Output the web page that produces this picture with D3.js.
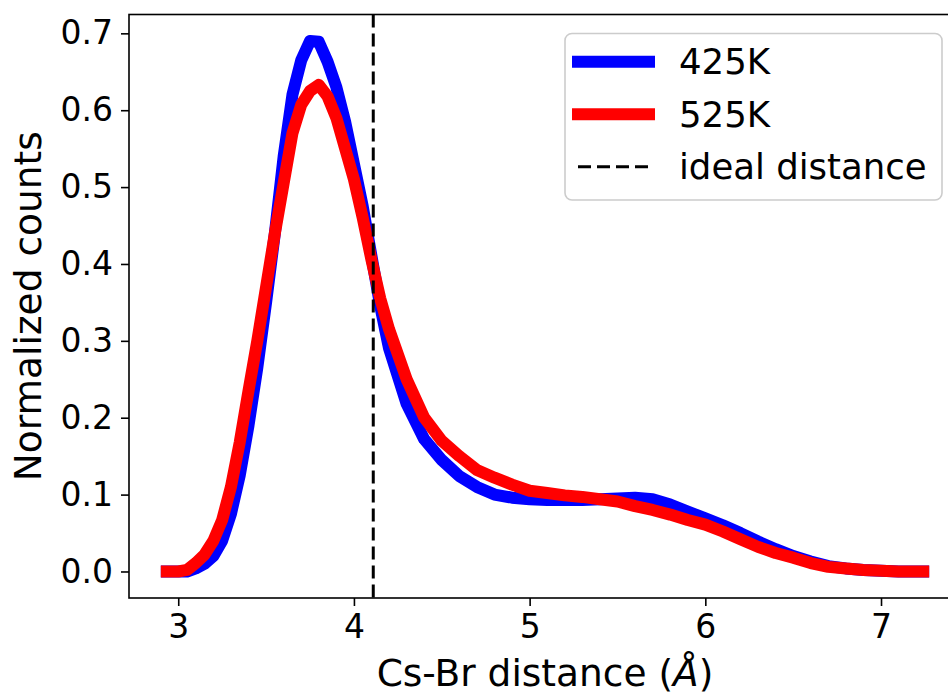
<!DOCTYPE html>
<html>
<head>
<meta charset="utf-8">
<script src="https://cdn.jsdelivr.net/npm/d3@7"></script>
<style>
  html, body { margin: 0; padding: 0; background: #fff; }
  svg { display: block; font-family: "DejaVu Sans", sans-serif; }
</style>
</head>
<body>
<svg id="chart" width="948" height="696"></svg>
<script>
// Cs-Br pair distance distributions (normalized counts) at two temperatures
const distance = [2.935, 3.00, 3.05, 3.10, 3.15, 3.20, 3.25, 3.30, 3.35, 3.40, 3.45, 3.50,
  3.55, 3.60, 3.65, 3.70, 3.75, 3.80, 3.85, 3.90, 3.95, 4.00, 4.05, 4.10, 4.15, 4.20,
  4.30, 4.40, 4.50, 4.60, 4.70, 4.80, 4.90, 5.00, 5.10, 5.20, 5.30, 5.40, 5.50, 5.60,
  5.70, 5.80, 5.90, 6.00, 6.10, 6.20, 6.30, 6.40, 6.50, 6.60, 6.70, 6.80, 6.90, 7.00,
  7.10, 7.24];

const counts425K = [0.000, 0.000, 0.000, 0.004, 0.010, 0.020, 0.040, 0.075, 0.125, 0.190, 0.265, 0.350,
  0.440, 0.540, 0.620, 0.665, 0.690, 0.689, 0.663, 0.630, 0.585, 0.530, 0.475, 0.410, 0.345, 0.290,
  0.218, 0.172, 0.145, 0.124, 0.110, 0.100, 0.096, 0.094, 0.093, 0.093, 0.093, 0.094, 0.095, 0.096,
  0.094, 0.087, 0.078, 0.069, 0.060, 0.050, 0.039, 0.029, 0.020, 0.013, 0.007, 0.004, 0.002, 0.001,
  0.000, 0.000];

const counts525K = [0.000, 0.000, 0.002, 0.011, 0.022, 0.040, 0.067, 0.110, 0.168, 0.235, 0.300, 0.370,
  0.440, 0.505, 0.570, 0.607, 0.625, 0.633, 0.618, 0.590, 0.550, 0.510, 0.460, 0.405, 0.355, 0.315,
  0.250, 0.200, 0.170, 0.150, 0.132, 0.122, 0.113, 0.105, 0.102, 0.099, 0.097, 0.094, 0.091, 0.085,
  0.080, 0.074, 0.067, 0.061, 0.052, 0.042, 0.032, 0.024, 0.018, 0.011, 0.006, 0.004, 0.002, 0.001,
  0.000, 0.000];

const idealDistance = 4.11;

const seriesNames = ["425K", "525K"];
const seriesColors = ["#0000ff", "#ff0000"];
const idealLabel = "ideal distance";

const xTicks = [3, 4, 5, 6, 7];
const yTicks = [0.0, 0.1, 0.2, 0.3, 0.4, 0.5, 0.6, 0.7];

const xLabel = "Cs-Br distance (";
const xLabelUnit = "Å";
const yLabel = "Normalized counts";

// ---- layout ----
const svg = d3.select("#chart");
const plot = { left: 129, top: 14.5, right: 961, bottom: 598 };

// autoscale with 5% margins on both axes
const xExt = d3.extent(distance);
const xPad = (xExt[1] - xExt[0]) * 0.05;
const yMax = d3.max([d3.max(counts425K), d3.max(counts525K)]);
const yMin = 0;
const yPad = (yMax - yMin) * 0.05;

const x = d3.scaleLinear().domain([xExt[0] - xPad, xExt[1] + xPad]).range([plot.left, plot.right]);
const y = d3.scaleLinear().domain([yMin - yPad, yMax + yPad]).range([plot.bottom, plot.top]);

svg.append("defs").append("clipPath").attr("id", "plotClip")
  .append("rect")
  .attr("x", plot.left).attr("y", plot.top)
  .attr("width", plot.right - plot.left).attr("height", plot.bottom - plot.top);

const series = [
  { name: seriesNames[0], color: seriesColors[0], values: counts425K },
  { name: seriesNames[1], color: seriesColors[1], values: counts525K }
];

const line = d3.line()
  .x((d, i) => x(distance[i]))
  .y(d => y(d))
  .curve(d3.curveLinear);

const lines = svg.append("g").attr("clip-path", "url(#plotClip)");
series.forEach(s => {
  lines.append("path")
    .datum(s.values)
    .attr("d", line)
    .attr("fill", "none")
    .attr("stroke", s.color)
    .attr("stroke-width", 12)
    .attr("stroke-linejoin", "round")
    .attr("stroke-linecap", "square");
});

// vertical reference line at the ideal Cs-Br distance
lines.append("line")
  .attr("x1", x(idealDistance)).attr("x2", x(idealDistance))
  .attr("y1", plot.top).attr("y2", plot.bottom)
  .attr("stroke", "#000")
  .attr("stroke-width", 3)
  .attr("stroke-dasharray", "13,6");

// ---- axes ----
const tickFont = 33;
const xAxis = d3.axisBottom(x).tickValues(xTicks).tickFormat(d3.format("d"))
  .tickSizeInner(8).tickSizeOuter(0).tickPadding(9);
const yAxis = d3.axisLeft(y).tickValues(yTicks).tickFormat(d3.format(".1f"))
  .tickSizeInner(8).tickSizeOuter(0).tickPadding(8);

const gx = svg.append("g").attr("transform", `translate(0,${plot.bottom})`).call(xAxis);
const gy = svg.append("g").attr("transform", `translate(${plot.left},0)`).call(yAxis);
[gx, gy].forEach(g => {
  g.select(".domain").remove();
  g.selectAll(".tick line").attr("stroke", "#000").attr("stroke-width", 1.6);
  g.selectAll(".tick text")
    .attr("fill", "#000")
    .style("font-family", "'DejaVu Sans', sans-serif")
    .style("font-size", tickFont + "px");
});

// axes frame
svg.append("rect")
  .attr("x", plot.left).attr("y", plot.top)
  .attr("width", plot.right - plot.left).attr("height", plot.bottom - plot.top)
  .attr("fill", "none").attr("stroke", "#000").attr("stroke-width", 1.6);

// axis titles
const labelFont = 37.5;
const xl = svg.append("text")
  .attr("x", (plot.left + plot.right) / 2)
  .attr("y", 686)
  .attr("text-anchor", "middle")
  .style("font-size", labelFont + "px")
  .attr("fill", "#000");
xl.append("tspan").text(xLabel);
xl.append("tspan").style("font-style", "italic").text(xLabelUnit);
xl.append("tspan").text(")");

svg.append("text")
  .attr("transform", `translate(41,${(plot.top + plot.bottom) / 2}) rotate(-90)`)
  .attr("text-anchor", "middle")
  .style("font-size", labelFont + "px")
  .attr("fill", "#000")
  .text(yLabel);

// ---- legend ----
const legendFont = 35.5;
const lg = svg.append("g");
lg.append("rect")
  .attr("x", 565).attr("y", 33.5)
  .attr("width", 377).attr("height", 166.5)
  .attr("rx", 7).attr("ry", 7)
  .attr("fill", "#fff").attr("fill-opacity", 0.8)
  .attr("stroke", "#cccccc").attr("stroke-width", 1.6);

const legendRows = [
  { label: series[0].name, color: series[0].color, dashed: false },
  { label: series[1].name, color: series[1].color, dashed: false },
  { label: idealLabel, color: "#000", dashed: true }
];
const rowY = d3.scalePoint().domain(d3.range(legendRows.length)).range([61.7, 166.7]);
legendRows.forEach((r, i) => {
  const cy = rowY(i);
  const h = lg.append("line")
    .attr("y1", cy).attr("y2", cy)
    .attr("stroke", r.color);
  if (r.dashed) {
    h.attr("x1", 578).attr("x2", 650).attr("stroke-width", 3).attr("stroke-dasharray", "13,6");
  } else {
    h.attr("x1", 578).attr("x2", 649).attr("stroke-width", 12).attr("stroke-linecap", "square");
  }
  lg.append("text")
    .attr("x", 679).attr("y", cy)
    .attr("dy", "0.36em")
    .style("font-size", legendFont + "px")
    .attr("fill", "#000")
    .text(r.label);
});
</script>
</body>
</html>
